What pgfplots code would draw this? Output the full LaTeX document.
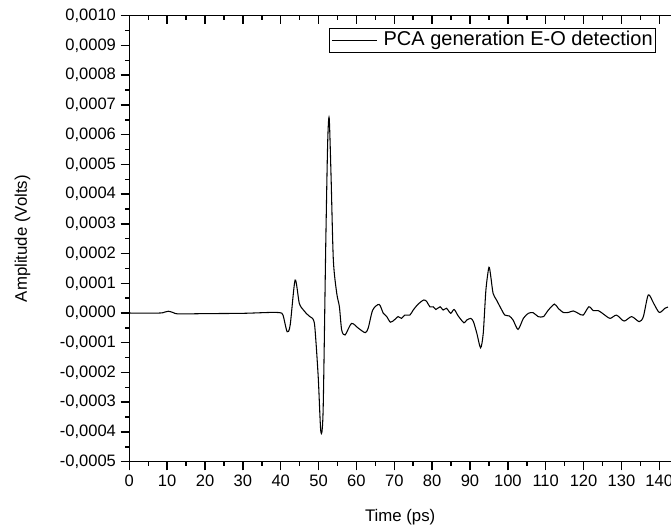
\documentclass[border=0pt]{standalone}
\usepackage{fontspec}
\setmainfont{Liberation Sans}
\usepackage{pgfplots}
\pgfplotsset{compat=1.18}
\begin{document}
\begin{tikzpicture}
\pgfplotsset{
  common/.style={
    scale only axis,
    width=406.3pt, height=334.5pt,
    xmin=0, xmax=143.1,
    ymin=-0.0005, ymax=0.0010,
    xtick={0,10,...,140},
    ytick={-0.0005,-0.0004,-0.0003,-0.0002,-0.0001,0,0.0001,0.0002,0.0003,0.0004,0.0005,0.0006,0.0007,0.0008,0.0009,0.0010},
    minor x tick num=1, minor y tick num=1,
    major tick length=6.5pt, minor tick length=3.2pt,
    axis line style={line width=1.1pt, black},
    every tick/.style={line width=1.1pt, black},
    scaled y ticks=false, scaled x ticks=false,
  }
}
\begin{axis}[common, name=ax,
  axis x line*=bottom, axis y line*=left,
  tick align=outside,
  /pgf/number format/assume math mode=true,
  tick label style={font=\fontsize{12.4}{14}\selectfont},
  yticklabel style={/pgf/number format/.cd, fixed, fixed zerofill, precision=4, use comma},
  xticklabel style={/pgf/number format/.cd, fixed, precision=0},
  xlabel={Time (ps)}, ylabel={Amplitude (Volts)},
  xlabel style={at={(axis description cs:0.5,-0.124)}, anchor=center, font=\fontsize{12.6}{14}\selectfont},
  ylabel style={at={(axis description cs:-0.197,0.5)}, anchor=center, font=\fontsize{12.6}{14}\selectfont},
  legend style={at={(0.9723,0.9724)}, anchor=north east, draw=black, line width=0.5pt,
     font=\fontsize{15}{17}\selectfont, inner xsep=1.25pt, inner ysep=0.5pt, row sep=0pt,
     nodes={inner sep=1pt, text height=11.5pt, text depth=3.5pt}},
  legend cell align=left,
  legend image code/.code={\draw[black, line width=0.6pt] (0pt,0pt) -- (34pt,0pt); \path (37.5pt,0pt);},
]
\addplot[black, line width=0.8pt, smooth, tension=0.45] table {
t v
0 0
8 0
9.3 0.03e-4
10.3 0.06e-4
11.5 0.02e-4
13 -0.03e-4
20 -0.02e-4
30 -0.01e-4
37.2 0.02e-4
39.8 0.01e-4
40.6 -0.07e-4
41.7 -0.63e-4
42.5 -0.40e-4
43.8 1.11e-4
44.9 0.33e-4
46.0 0.10e-4
46.9 -0.03e-4
47.7 -0.12e-4
48.4 -0.18e-4
49.0 -0.46e-4
49.9 -2.14e-4
50.6 -4.00e-4
51.2 -3.26e-4
51.9 2.35e-4
52.4 5.72e-4
52.8 6.56e-4
53.3 4.58e-4
53.9 1.78e-4
54.8 0.66e-4
55.5 0.21e-4
56.1 -0.57e-4
57.0 -0.74e-4
58.7 -0.35e-4
60.5 -0.51e-4
62.3 -0.66e-4
63.1 -0.51e-4
64.3 0.10e-4
66.0 0.29e-4
67.1 -0.01e-4
68.0 -0.12e-4
69.0 -0.31e-4
70.2 -0.21e-4
71.0 -0.12e-4
71.9 -0.18e-4
72.8 -0.07e-4
74.1 -0.07e-4
75.0 0.10e-4
76.3 0.30e-4
77.8 0.44e-4
78.6 0.38e-4
79.4 0.21e-4
80.3 0.21e-4
81.0 0.12e-4
82.1 0.21e-4
82.9 0.10e-4
83.8 0.16e-4
84.9 -0.01e-4
85.8 0.12e-4
86.9 -0.10e-4
88.4 -0.33e-4
89.1 -0.24e-4
90.2 -0.18e-4
90.9 -0.29e-4
91.8 -0.68e-4
92.8 -1.17e-4
93.5 -0.68e-4
94.2 0.77e-4
95.0 1.54e-4
95.5 1.22e-4
96.1 0.66e-4
97.0 0.44e-4
98.4 0.10e-4
99.2 -0.07e-4
100.4 -0.10e-4
101.4 -0.24e-4
102.7 -0.55e-4
104.1 -0.18e-4
105.4 -0.01e-4
106.7 0.01e-4
108.0 -0.12e-4
109.4 -0.12e-4
110.7 0.10e-4
112.3 0.30e-4
113.3 0.16e-4
114.6 0.02e-4
116.0 0.02e-4
117.3 0.07e-4
118.6 -0.01e-4
119.9 -0.07e-4
121.4 0.21e-4
122.6 0.08e-4
123.9 0.08e-4
125.2 -0.03e-4
127.0 -0.18e-4
128.7 -0.07e-4
130.7 -0.27e-4
132.7 -0.12e-4
134.7 -0.29e-4
135.8 -0.12e-4
137.1 0.61e-4
138.5 0.33e-4
140.0 0.02e-4
141.5 0.16e-4
142.3 0.20e-4
};
\addlegendentry{PCA generation E-O detection}
\end{axis}
\begin{axis}[common,
  axis x line*=top, axis y line=none,
  tick align=inside,
  xticklabels={}, ytick=\empty,
]
\end{axis}
\pgfresetboundingbox
\useasboundingbox ([xshift=-97pt,yshift=-51.2pt]ax.south west) rectangle ([yshift=11.8pt]ax.north east);
\end{tikzpicture}
\end{document}
